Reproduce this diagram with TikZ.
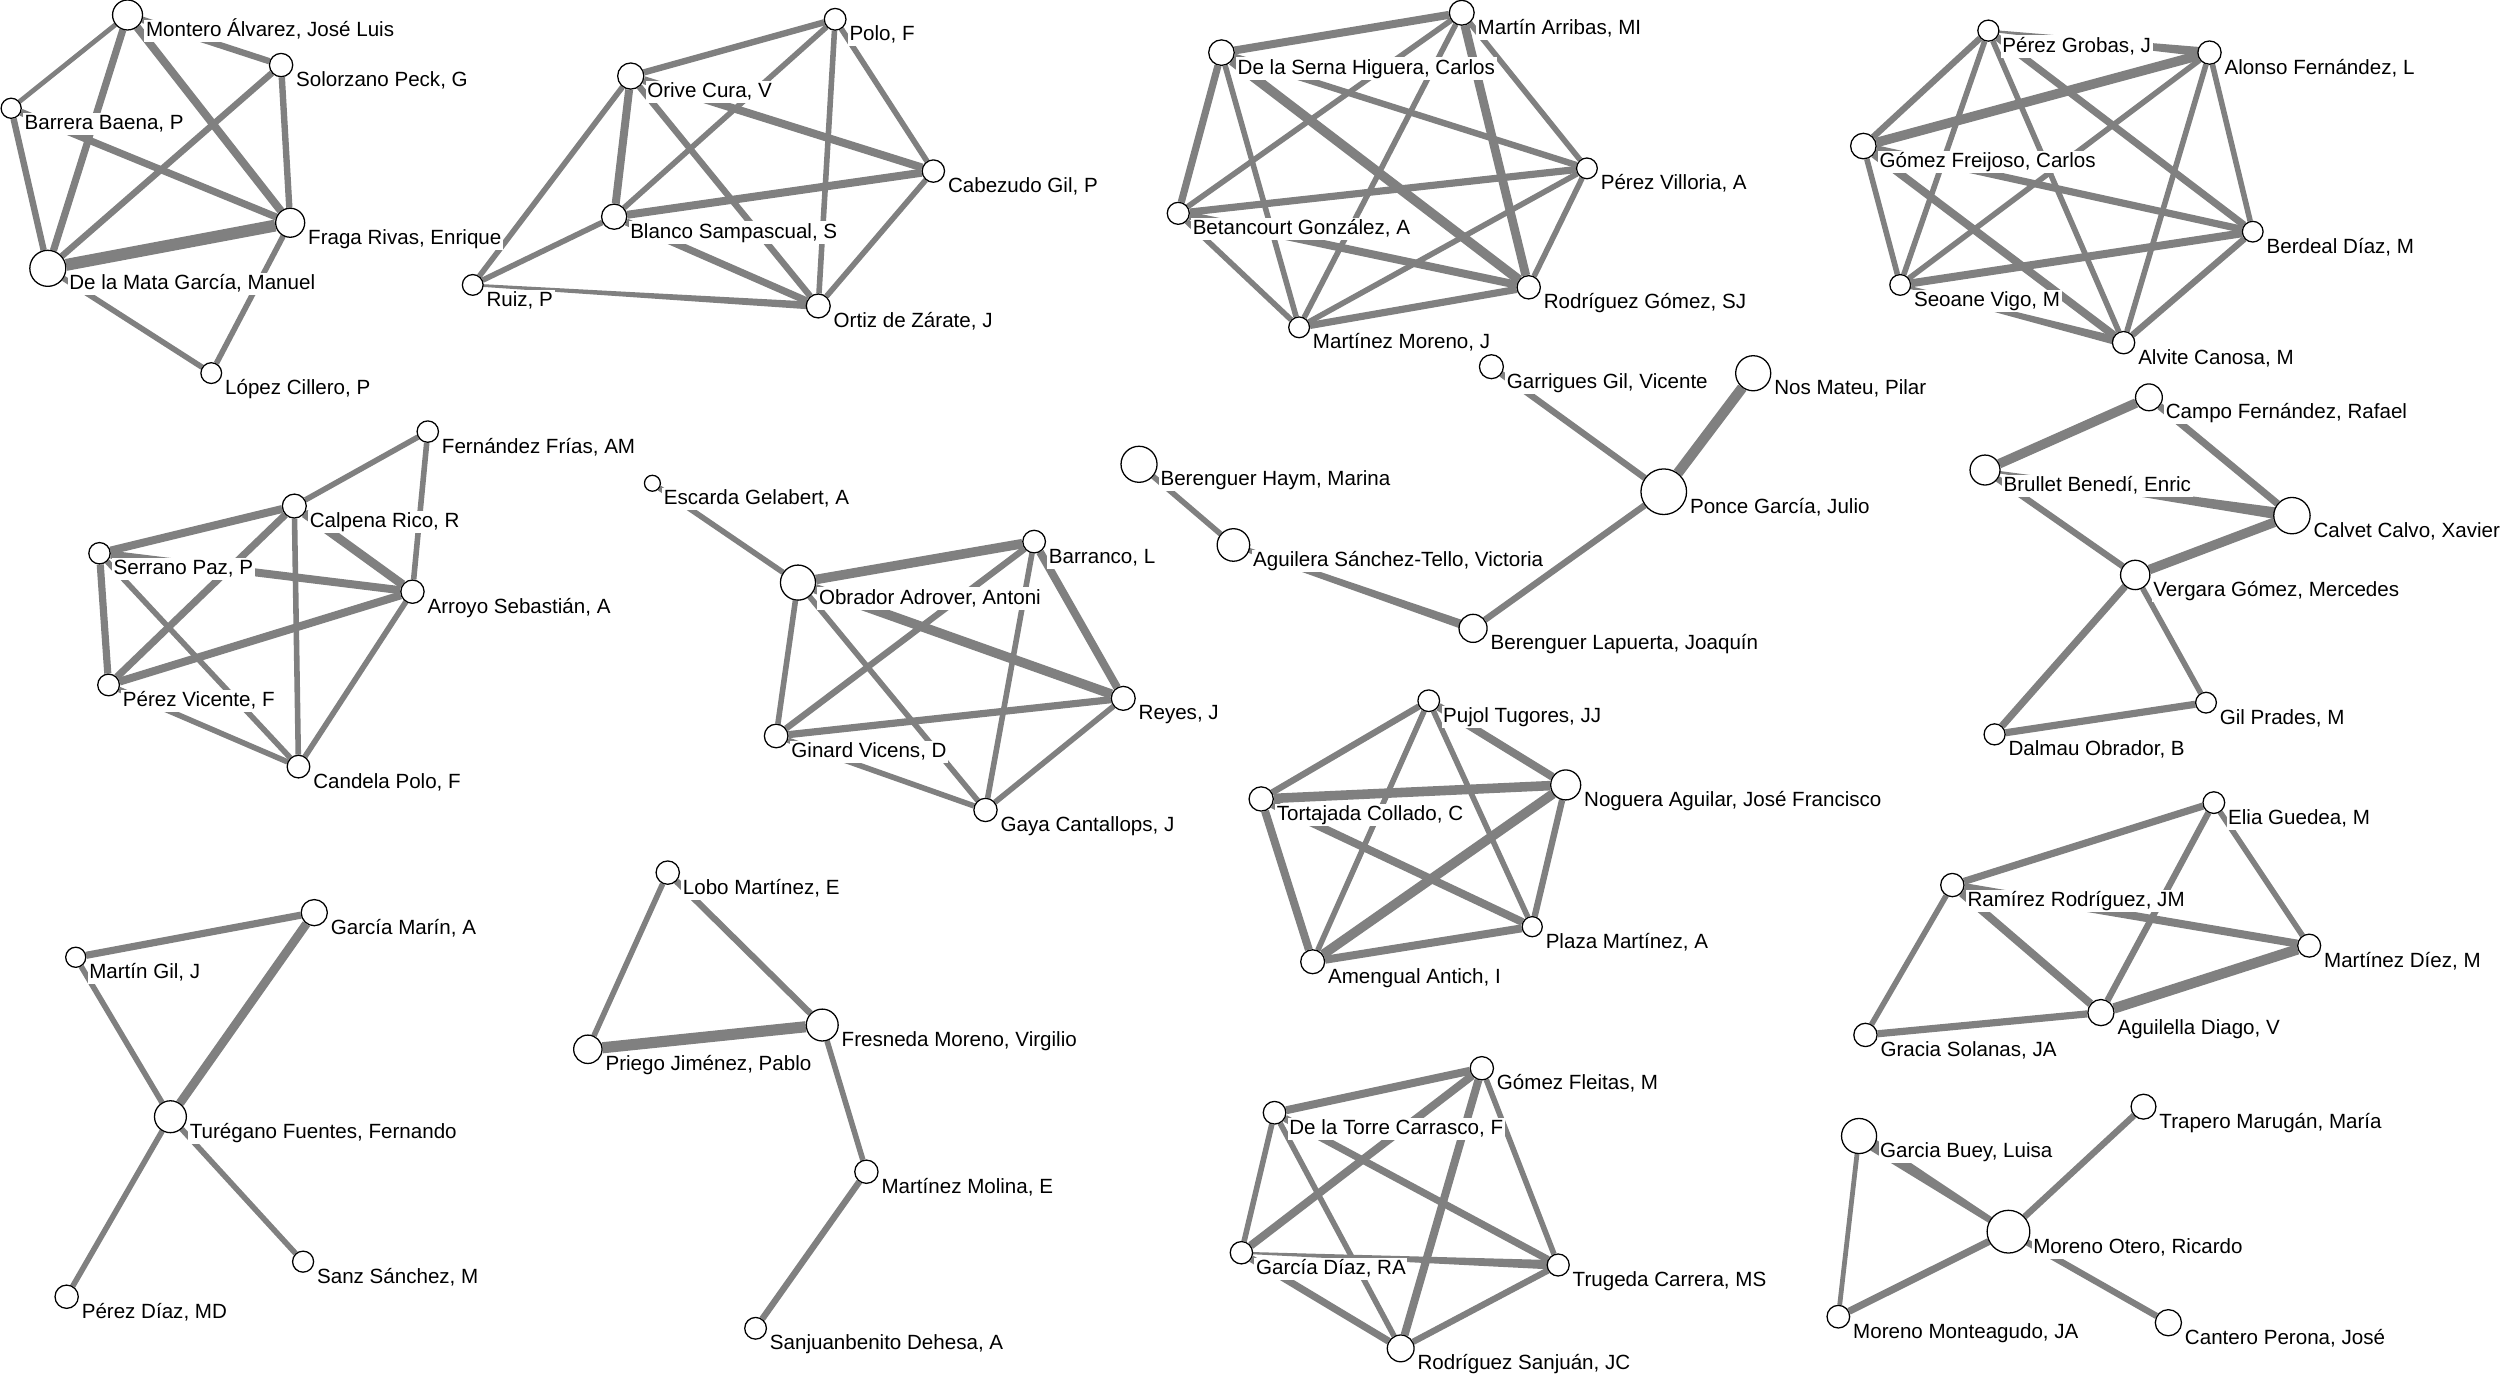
\documentclass[tikz,border=0pt]{standalone}
\usepackage{fontspec}
\setmainfont{Liberation Sans}
\usetikzlibrary{calc}
\definecolor{eg}{RGB}{128,128,128}
\pgfdeclarelayer{bg}\pgfdeclarelayer{edges}
\pgfsetlayers{bg,edges,main}
\tikzset{
 vtx/.style={circle,draw=black,fill=white,line width=0.8pt,inner sep=0pt},
 lab/.style={anchor=base west,fill=white,inner xsep=1pt,inner ysep=0.5pt,text height=10pt,text depth=3pt,font=\fontsize{12.9}{14}\selectfont},
 ln/.style={draw=eg,line width=#1pt},
}
\newcommand\pn[5]{%
  \node[lab] (#1-l) at ({#2+#4+1},{#3+13.5}) {#5};
  \node[vtx,minimum size={2*#4pt}] (#1) at (#2,#3) {};
}
\newcommand\tap[4]{%
  \fill[eg] ($(#1.center)!#3pt!90:(#2.center)$) -- ($(#1.center)!#3pt!-90:(#2.center)$) -- ($(#2.center)!#4pt!90:(#1.center)$) -- ($(#2.center)!#4pt!-90:(#1.center)$) -- cycle;}
\begin{document}
\begin{tikzpicture}[x=1pt,y=-1pt]
\useasboundingbox (0,0) rectangle (1568,862);
\begin{pgfonlayer}{bg}\fill[white] (0,0) rectangle (1568,862);\end{pgfonlayer}
% cluster 1
\pn{mon}{80.0}{9.4}{9.4}{Montero Álvarez, José Luis}
\pn{sol}{176.3}{40.8}{7.3}{Solorzano Peck, G}
\pn{bar}{7.0}{67.9}{6.3}{Barrera Baena, P}
\pn{fra}{182}{139.7}{9.1}{Fraga Rivas, Enrique}
\pn{dlm}{30}{168.3}{11.3}{De la Mata García, Manuel}
\pn{lop}{132.5}{234}{6.5}{López Cillero, P}
% cluster 2
\pn{pol}{523.8}{12.1}{6.8}{Polo, F}
\pn{ori}{395.6}{47.7}{8.2}{Orive Cura, V}
\pn{cab}{585.4}{107.3}{7}{Cabezudo Gil, P}
\pn{bla}{385.2}{135.9}{7.9}{Blanco Sampascual, S}
\pn{rui}{296.5}{178.7}{6.5}{Ruiz, P}
\pn{ort}{513.2}{191.9}{7.5}{Ortiz de Zárate, J}
% cluster 3
\pn{mar}{916.8}{8.0}{7.8}{Martín Arribas, MI}
\pn{dsh}{766.1}{33}{8}{De la Serna Higuera, Carlos}
\pn{pvi}{995.3}{105.6}{6.5}{Pérez Villoria, A}
\pn{bet}{739}{133.8}{6.9}{Betancourt González, A}
\pn{rgo}{958.8}{180.2}{7.3}{Rodríguez Gómez, SJ}
\pn{mmo}{814.8}{205.3}{6.5}{Martínez Moreno, J}
% cluster 4
\pn{pgr}{1247.1}{19.2}{6.6}{Pérez Grobas, J}
\pn{alo}{1385.8}{33}{7.3}{Alonso Fernández, L}
\pn{gfr}{1168.7}{91.6}{8}{Gómez Freijoso, Carlos}
\pn{ber}{1412.9}{145.3}{6.5}{Berdeal Díaz, M}
\pn{seo}{1191.8}{178.7}{6.5}{Seoane Vigo, M}
\pn{alv}{1331.9}{214.9}{7}{Alvite Canosa, M}
% cluster 5
\pn{gar}{935.4}{230}{7.5}{Garrigues Gil, Vicente}
\pn{nos}{1099.6}{234.1}{11}{Nos Mateu, Pilar}
\pn{pon}{1043.5}{308.4}{14.3}{Ponce García, Julio}
\pn{bel}{923.9}{394.1}{8.8}{Berenguer Lapuerta, Joaquín}
\pn{bhm}{714.4}{291.2}{11.3}{Berenguer Haym, Marina}
\pn{agu}{773.6}{341.8}{10.2}{Aguilera Sánchez-Tello, Victoria}
% cluster 6
\pn{cam}{1347.8}{249.2}{8.4}{Campo Fernández, Rafael}
\pn{bru}{1245}{294.8}{9.4}{Brullet Benedí, Enric}
\pn{cal}{1437.5}{323.4}{11.4}{Calvet Calvo, Xavier}
\pn{ver}{1339.2}{360.6}{9.2}{Vergara Gómez, Mercedes}
\pn{gil}{1383.6}{440.7}{6.5}{Gil Prades, M}
\pn{dal}{1251}{460.6}{6.6}{Dalmau Obrador, B}
% cluster 7
\pn{ffr}{268.3}{270.7}{6.7}{Fernández Frías, AM}
\pn{cpr}{184.6}{317.4}{7.5}{Calpena Rico, R}
\pn{ser}{62.4}{347}{6.7}{Serrano Paz, P}
\pn{arr}{258.7}{371.1}{7.3}{Arroyo Sebastián, A}
\pn{pvc}{68.1}{429.6}{6.8}{Pérez Vicente, F}
\pn{can}{187.2}{480.8}{7.1}{Candela Polo, F}
% cluster 8
\pn{esc}{409.2}{303.1}{5}{Escarda Gelabert, A}
\pn{obr}{500.5}{365.4}{11}{Obrador Adrover, Antoni}
\pn{brr}{648.6}{339.7}{7.1}{Barranco, L}
\pn{rey}{704.5}{438}{7.5}{Reyes, J}
\pn{gin}{486.8}{461.6}{7.4}{Ginard Vicens, D}
\pn{gay}{618.1}{508}{7.3}{Gaya Cantallops, J}
% cluster 9
\pn{puj}{896.1}{439.5}{6.8}{Pujol Tugores, JJ}
\pn{nog}{982}{492.3}{9.4}{Noguera Aguilar, José Francisco}
\pn{tor}{791}{501.1}{7.6}{Tortajada Collado, C}
\pn{pla}{961}{581.2}{6.3}{Plaza Martínez, A}
\pn{ame}{823.3}{603.2}{7.5}{Amengual Antich, I}
% cluster 10
\pn{eli}{1388.5}{503.4}{6.8}{Elia Guedea, M}
\pn{ram}{1224.5}{555.1}{7.3}{Ramírez Rodríguez, JM}
\pn{mdi}{1448.3}{593.1}{7.2}{Martínez Díez, M}
\pn{agl}{1317.7}{635.1}{8.2}{Aguilella Diago, V}
\pn{gra}{1170}{649.1}{7.3}{Gracia Solanas, JA}
% cluster 11
\pn{gma}{197.1}{572.4}{8.2}{García Marín, A}
\pn{mgi}{47.5}{600.4}{6.3}{Martín Gil, J}
\pn{tur}{106.9}{700.4}{10}{Turégano Fuentes, Fernando}
\pn{san}{190.1}{791.3}{6.6}{Sanz Sánchez, M}
\pn{pdi}{41.8}{813.3}{7.3}{Pérez Díaz, MD}
% cluster 12
\pn{lob}{418.8}{547.3}{7.3}{Lobo Martínez, E}
\pn{fre}{515.7}{642.9}{10}{Fresneda Moreno, Virgilio}
\pn{pri}{368.7}{658.1}{8.9}{Priego Jiménez, Pablo}
\pn{mml}{543.4}{734.9}{7.3}{Martínez Molina, E}
\pn{sjb}{473.9}{833.1}{6.8}{Sanjuanbenito Dehesa, A}
% cluster 13
\pn{gfl}{929.4}{670}{7.3}{Gómez Fleitas, M}
\pn{dlt}{799.4}{697.9}{7.1}{De la Torre Carrasco, F}
\pn{gdi}{778.6}{785.7}{7}{García Díaz, RA}
\pn{tru}{977.3}{793.4}{6.9}{Trugeda Carrera, MS}
\pn{rsj}{878.5}{845.7}{8.4}{Rodríguez Sanjuán, JC}
% cluster 14
\pn{tra}{1344.4}{694.1}{7.8}{Trapero Marugán, María}
\pn{gbu}{1166}{712.5}{11}{Garcia Buey, Luisa}
\pn{mot}{1259.7}{772.5}{13.4}{Moreno Otero, Ricardo}
\pn{mmt}{1153}{825.8}{7.1}{Moreno Monteagudo, JA}
\pn{cpe}{1360}{829.6}{8.2}{Cantero Perona, José}

\begin{pgfonlayer}{edges}
% c1
\draw[ln=3] (mon)--(bar); \draw[ln=4.5] (mon)--(dlm); \draw[ln=5] (mon)--(fra);
\draw[ln=4] (mon)--(sol); \draw[ln=4] (sol)--(dlm); \draw[ln=4] (sol)--(fra);
\draw[ln=4] (bar)--(dlm); \draw[ln=4.5] (bar)--(fra); \draw[ln=7.5] (dlm)--(fra);
\draw[ln=3.5] (dlm)--(lop); \draw[ln=3.5] (fra)--(lop);
% c2
\draw[ln=4] (ori)--(pol); \draw[ln=3.5] (pol)--(bla); \draw[ln=3.5] (pol)--(ort);
\draw[ln=3.5] (pol)--(cab); \draw[ln=5] (ori)--(cab); \draw[ln=5] (ori)--(bla);
\draw[ln=4] (ori)--(ort); \draw[ln=3.5] (ori)--(rui); \draw[ln=5] (bla)--(cab);
\draw[ln=4.5] (bla)--(ort); \draw[ln=3.5] (bla)--(rui); \tap{rui}{ort}{0.8}{2.5};
\draw[ln=3.5] (cab)--(ort);
% c3
\draw[ln=5] (mar)--(dsh); \draw[ln=3.5] (mar)--(pvi); \draw[ln=3.5] (mar)--(bet);
\draw[ln=5.5] (mar)--(rgo); \draw[ln=3.5] (mar)--(mmo); \draw[ln=4] (dsh)--(pvi);
\draw[ln=4.5] (dsh)--(bet); \draw[ln=6] (dsh)--(rgo); \draw[ln=3.5] (dsh)--(mmo);
\draw[ln=4.5] (bet)--(pvi); \draw[ln=5] (bet)--(rgo); \draw[ln=3.5] (bet)--(mmo);
\draw[ln=3.5] (pvi)--(rgo); \draw[ln=3.5] (pvi)--(mmo); \draw[ln=4.5] (rgo)--(mmo);
% c4
\tap{pgr}{alo}{0.6}{3}; \draw[ln=4] (pgr)--(gfr); \draw[ln=3.5] (pgr)--(seo);
\draw[ln=4.5] (pgr)--(ber); \draw[ln=3.5] (pgr)--(alv); \draw[ln=6] (alo)--(gfr);
\draw[ln=3.5] (alo)--(seo); \draw[ln=3.5] (alo)--(ber); \draw[ln=3.5] (alo)--(alv);
\draw[ln=4.5] (gfr)--(ber); \draw[ln=3.5] (gfr)--(seo); \draw[ln=5] (gfr)--(alv);
\draw[ln=5] (seo)--(ber); \tap{seo}{alv}{0.8}{2.8}; \draw[ln=4] (ber)--(alv);
% c5
\draw[ln=4] (gar)--(pon); \draw[ln=6.5] (nos)--(pon); \draw[ln=4] (pon)--(bel);
\draw[ln=3.5] (bhm)--(agu); \tap{agu}{bel}{1.5}{2.8};
% c6
\draw[ln=6] (cam)--(bru); \draw[ln=4.5] (cam)--(cal); \tap{bru}{cal}{0.6}{3.8};
\draw[ln=4] (bru)--(ver); \draw[ln=6] (cal)--(ver); \draw[ln=4.5] (ver)--(dal);
\draw[ln=3.5] (ver)--(gil); \draw[ln=4.5] (gil)--(dal);
% c7
\draw[ln=3.5] (ffr)--(cpr); \draw[ln=3.5] (ffr)--(arr); \draw[ln=5] (cpr)--(ser);
\draw[ln=5.5] (cpr)--(arr); \draw[ln=4.5] (cpr)--(pvc); \draw[ln=3.5] (cpr)--(can);
\draw[ln=5] (ser)--(arr); \draw[ln=4.5] (ser)--(pvc); \draw[ln=3.5] (ser)--(can);
\draw[ln=5] (arr)--(pvc); \draw[ln=3.5] (arr)--(can); \draw[ln=3.5] (pvc)--(can);
% c8
\draw[ln=3.5] (esc)--(obr); \draw[ln=6] (obr)--(brr); \draw[ln=6] (obr)--(rey);
\draw[ln=3.5] (obr)--(gin); \draw[ln=3.5] (obr)--(gay); \draw[ln=5] (brr)--(rey);
\draw[ln=4] (brr)--(gin); \draw[ln=3.5] (brr)--(gay); \draw[ln=4.5] (rey)--(gin);
\draw[ln=3.5] (rey)--(gay); \draw[ln=3.5] (gin)--(gay);
% c9
\draw[ln=4] (puj)--(tor); \draw[ln=5] (puj)--(nog); \draw[ln=3.5] (puj)--(pla);
\draw[ln=3.5] (puj)--(ame); \draw[ln=6] (tor)--(nog); \draw[ln=5] (tor)--(pla);
\draw[ln=5] (tor)--(ame); \draw[ln=4] (nog)--(pla); \draw[ln=6] (nog)--(ame);
\draw[ln=5] (pla)--(ame);
% c10
\draw[ln=4.5] (eli)--(ram); \draw[ln=4] (eli)--(agl); \draw[ln=3.5] (eli)--(mdi);
\draw[ln=5] (ram)--(agl); \draw[ln=5] (ram)--(mdi); \draw[ln=3.5] (ram)--(gra);
\draw[ln=6.5] (mdi)--(agl); \draw[ln=4.5] (agl)--(gra);
% c11
\draw[ln=4.5] (mgi)--(gma); \draw[ln=5.5] (gma)--(tur); \draw[ln=3.5] (mgi)--(tur);
\draw[ln=3.5] (tur)--(pdi); \draw[ln=3.5] (tur)--(san);
% c12
\draw[ln=3.5] (lob)--(pri); \draw[ln=4] (lob)--(fre); \draw[ln=7] (pri)--(fre);
\draw[ln=3.5] (fre)--(mml); \draw[ln=4] (mml)--(sjb);
% c13
\draw[ln=5] (gfl)--(dlt); \draw[ln=5] (gfl)--(gdi); \draw[ln=5] (gfl)--(rsj);
\draw[ln=3.5] (gfl)--(tru); \draw[ln=3.5] (dlt)--(gdi); \draw[ln=3.5] (dlt)--(rsj);
\draw[ln=4.5] (dlt)--(tru); \tap{gdi}{tru}{0.6}{3}; \draw[ln=4.5] (gdi)--(rsj);
\draw[ln=4] (tru)--(rsj);
% c14
\tap{gbu}{mot}{4}{1.8}; \draw[ln=3] (gbu)--(mmt); \draw[ln=4] (mot)--(tra);
\draw[ln=4.5] (mot)--(mmt); \draw[ln=4] (mot)--(cpe);
\end{pgfonlayer}
\end{tikzpicture}
\end{document}
